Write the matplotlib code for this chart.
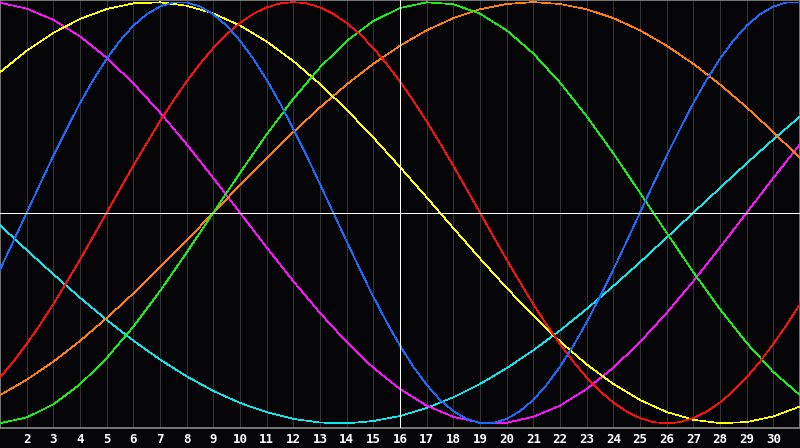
import matplotlib.pyplot as plt

# days shown on the chart
days = list(range(1, 32))
half_days = [1 + i / 2 for i in range(61)]
tick_days = list(range(2, 31))

# cycle values
# fast cycles read every half day (1, 1.5, ... 31)
blue = [-0.270, -0.136, 0.0, 0.136, 0.270, 0.398, 0.520, 0.631, 0.731, 0.817,
        0.888, 0.942, 0.979, 0.998, 0.998, 0.979, 0.942, 0.888, 0.817, 0.731,
        0.631, 0.520, 0.398, 0.270, 0.136, 0.0, -0.136, -0.270, -0.398, -0.520,
        -0.631, -0.731, -0.817, -0.888, -0.942, -0.979, -0.998, -0.998, -0.979, -0.942,
        -0.888, -0.817, -0.731, -0.631, -0.520, -0.398, -0.270, -0.136, 0.0, 0.136,
        0.270, 0.398, 0.520, 0.631, 0.731, 0.817, 0.888, 0.942, 0.979, 0.998, 0.998]
red = [-0.782, -0.707, -0.623, -0.532, -0.434, -0.330, -0.223, -0.112, 0.0, 0.112,
       0.223, 0.330, 0.434, 0.532, 0.623, 0.707, 0.782, 0.847, 0.901, 0.944,
       0.975, 0.994, 1.0, 0.994, 0.975, 0.944, 0.901, 0.847, 0.782, 0.707,
       0.623, 0.532, 0.434, 0.330, 0.223, 0.112, 0.0, -0.112, -0.223, -0.330,
       -0.434, -0.532, -0.623, -0.707, -0.782, -0.847, -0.901, -0.944, -0.975, -0.994,
       -1.0, -0.994, -0.975, -0.944, -0.901, -0.847, -0.782, -0.707, -0.623, -0.532, -0.434]
# slower cycles read once a day (1..31)
green = [-0.999, -0.972, -0.910, -0.815, -0.690, -0.541, -0.372, -0.189, 0.0, 0.189,
         0.372, 0.541, 0.690, 0.815, 0.910, 0.972, 0.999, 0.990, 0.945, 0.866,
         0.756, 0.618, 0.458, 0.282, 0.095, -0.095, -0.282, -0.458, -0.618, -0.756, -0.866]
magenta = [0.997, 0.969, 0.916, 0.837, 0.736, 0.614, 0.476, 0.325, 0.165, 0.0,
           -0.165, -0.325, -0.476, -0.614, -0.736, -0.837, -0.916, -0.969, -0.997, -0.997,
           -0.969, -0.916, -0.837, -0.736, -0.614, -0.476, -0.325, -0.165, 0.0, 0.165, 0.325]
yellow = [0.667, 0.769, 0.854, 0.920, 0.967, 0.994, 0.999, 0.983, 0.946, 0.889,
          0.813, 0.720, 0.611, 0.489, 0.357, 0.217, 0.073, -0.073, -0.217, -0.357,
          -0.489, -0.611, -0.720, -0.813, -0.889, -0.946, -0.983, -0.999, -0.994, -0.967, -0.920]
orange = [-0.866, -0.793, -0.707, -0.609, -0.500, -0.383, -0.259, -0.131, 0.0, 0.131,
          0.259, 0.383, 0.500, 0.609, 0.707, 0.793, 0.866, 0.924, 0.966, 0.991,
          1.0, 0.991, 0.966, 0.924, 0.866, 0.793, 0.707, 0.609, 0.500, 0.383, 0.259]
cyan = [-0.059, -0.177, -0.292, -0.403, -0.509, -0.607, -0.697, -0.777, -0.846, -0.903,
        -0.947, -0.979, -0.996, -1.0, -0.989, -0.965, -0.927, -0.876, -0.813, -0.738,
        -0.653, -0.559, -0.457, -0.348, -0.235, -0.118, 0.0, 0.118, 0.235, 0.348, 0.457]

bg = '#050508'
fig = plt.figure(figsize=(8, 4.48), dpi=100, facecolor=bg)
ax = fig.add_axes([0, 20 / 448, 1, 428 / 448])
ax.set_facecolor(bg)

# day grid
for d in tick_days:
    ax.axvline(d, color='#333336', lw=0.5, antialiased=False, zorder=1)

style = dict(lw=0.5, antialiased=False, zorder=3)
ax.plot(days, cyan, color='#10e8f0', **style)
ax.plot(days, magenta, color='#ff10ff', **style)
ax.plot(days, orange, color='#ff8010', **style)
ax.plot(days, yellow, color='#ffff10', **style)
ax.plot(days, green, color='#18f018', **style)
ax.plot(half_days, red, color='#ff1010', **style)
ax.plot(half_days, blue, color='#1a6cff', **style)

# centre lines
ax.axhline(0, color='white', lw=0.5, antialiased=False, zorder=4)
ax.axvline(16, color='white', lw=0.5, antialiased=False, zorder=4)

ax.set_xlim(1, 31)
ax.set_ylim(-1.022, 1.010)
ax.set_yticks([])
ax.set_xticks(tick_days)
ax.set_xticklabels([str(d) for d in tick_days], color='white',
                   fontsize=9, fontweight='bold', family='DejaVu Sans Mono')
ax.tick_params(axis='x', length=0, pad=3.5)
for s in ax.spines.values():
    s.set_color('#8a8a8a')
    s.set_linewidth(1.2)

fig.savefig('out.png', dpi=100, facecolor=bg)
